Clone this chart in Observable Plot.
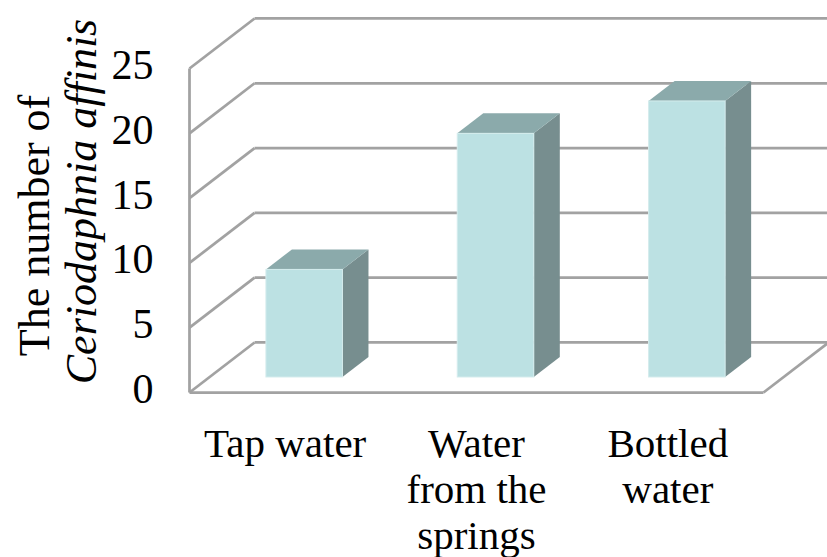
<!DOCTYPE html>
<html><head><meta charset="utf-8">
<script src="https://cdn.jsdelivr.net/npm/d3@7"></script>
<script src="https://cdn.jsdelivr.net/npm/@observablehq/plot@0.6"></script>
<style>body{margin:0;background:#fff}</style>
</head><body><div id="chart"></div>
<script>
// ---- data ----
const categories = ["Tap water", "Water\nfrom the\nsprings", "Bottled\nwater"];
const values = [8.3, 18.8, 21.3];
const yTicks = [0, 5, 10, 15, 20, 25];
const yTitle = "The number of";
const yTitleItalic = "Ceriodaphnia affinis";

// ---- 3D projection constants (data units) ----
const DX = 0.34, DY = 3.86;   // full floor depth offset
const F0 = 0.3, F1 = 0.7;     // bar depth span (fraction of floor depth)
const HW = 0.2;               // half bar width (x units)
const FONT = "'Liberation Serif','Times New Roman',serif";
const GRID = "#a2a2a2";

const bars = categories.map((c, i) => ({c, i, v: values[i], cx: i + 0.5}));
const topFace = bars.flatMap(b => [F0, F1].map(f => ({c: b.c, y: b.v + f * DY, x1: b.cx - HW + f * DX, x2: b.cx + HW + f * DX})));
const sideFace = bars.flatMap(b => [F0, F1].map(f => ({c: b.c, x: b.cx + HW + f * DX, y1: f * DY, y2: b.v + f * DY})));
const backLines = yTicks.map(t => ({x1: DX, y1: t + DY, x2: categories.length + DX, y2: t + DY}));
const sideLines = yTicks.map(t => ({x1: 0, y1: t, x2: DX, y2: t + DY}));
const yMax = yTicks[yTicks.length - 1];
const edges = [
  {x1: 0, y1: 0, x2: 0, y2: yMax},
  {x1: 0, y1: 0, x2: categories.length, y2: 0},
  {x1: categories.length, y1: 0, x2: categories.length + DX, y2: DY}
];

const chart = Plot.plot({
  width: 827, height: 557,
  marginLeft: 189, marginRight: 64, marginTop: 68, marginBottom: 165,
  x: {type: "linear", domain: [0, categories.length], axis: null},
  y: {type: "linear", domain: [0, yMax], axis: null},
  style: {background: "#fff", overflow: "visible", fontFamily: FONT},
  marks: [
    Plot.link(backLines, {x1: "x1", y1: "y1", x2: "x2", y2: "y2", stroke: GRID, strokeWidth: 2.75}),
    Plot.link(sideLines, {x1: "x1", y1: "y1", x2: "x2", y2: "y2", stroke: GRID, strokeWidth: 2.75}),
    Plot.link(edges, {x1: "x1", y1: "y1", x2: "x2", y2: "y2", stroke: GRID, strokeWidth: 2.75}),
    Plot.areaY(sideFace, {x: "x", y1: "y1", y2: "y2", z: "c", fill: "#778e8f", curve: "linear"}),
    Plot.areaX(topFace, {y: "y", x1: "x1", x2: "x2", z: "c", fill: "#8baaab", curve: "linear"}),
    Plot.rect(bars, {x1: b => b.cx - HW + F0 * DX, x2: b => b.cx + HW + F0 * DX, y1: F0 * DY, y2: b => b.v + F0 * DY,
      fill: "#bce1e3", stroke: "#d4eced", strokeWidth: 1}),
    Plot.text(yTicks, {x: 0, y: d => d, text: d => String(d), textAnchor: "end", dx: -36, dy: -3,
      fontSize: 42, fill: "#000", fontFamily: FONT}),
    Plot.text(bars, {x: "cx", y: 0, text: "c", lineAnchor: "top", dy: 32, lineHeight: 1.12,
      fontSize: 41, fill: "#000", fontFamily: FONT}),
    Plot.text([yTitle], {frameAnchor: "left", text: d => d, rotate: -90, textAnchor: "middle", lineAnchor: "middle",
      dx: -155, dy: -5, fontSize: 44, fill: "#000", fontFamily: FONT}),
    Plot.text([yTitleItalic], {frameAnchor: "left", text: d => d, rotate: -90, textAnchor: "middle", lineAnchor: "middle",
      dx: -108, dy: -29, fontSize: 44, fill: "#000", fontFamily: FONT, fontStyle: "italic"})
  ]
});
document.getElementById("chart").appendChild(chart);
</script>
</body></html>
